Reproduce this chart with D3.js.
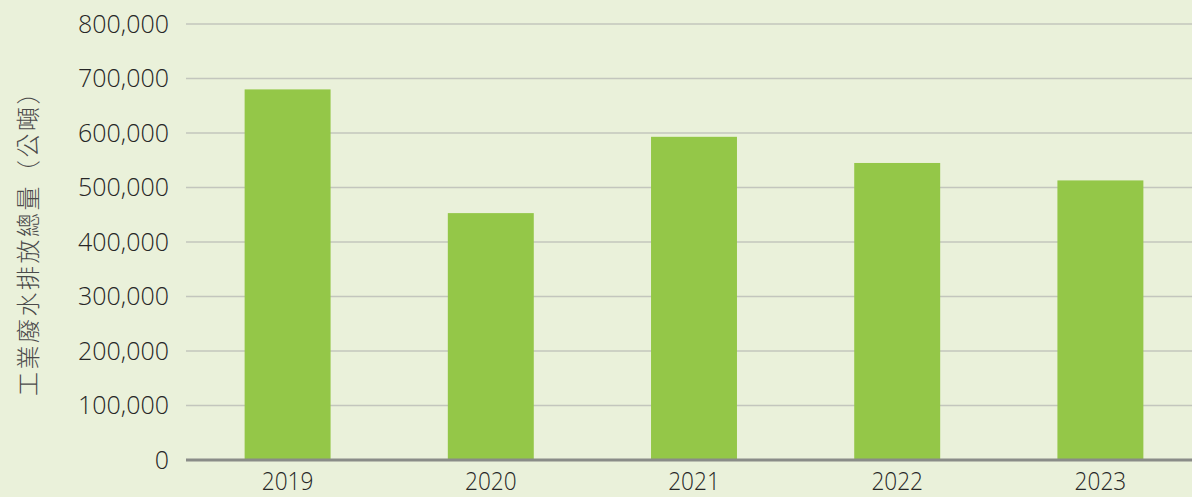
<!DOCTYPE html>
<html>
<head>
<meta charset="utf-8">
<script src="https://cdn.jsdelivr.net/npm/d3@7"></script>
<style>
  body { margin: 0; background: #eaf1da; }
  svg { display: block; }
</style>
</head>
<body>
<div id="viz"></div>
<script>
// Chart data
const years = ["2019", "2020", "2021", "2022", "2023"];
const wastewater = [680000, 453000, 593000, 545000, 513000];
const yTicks = [0, 100000, 200000, 300000, 400000, 500000, 600000, 700000, 800000];
const yTitle = "工業廢水排放總量（公噸）";

const width = 1192;
const height = 497;
const margin = { top: 24, right: 0, bottom: 37, left: 186 };

const svg = d3.select("#viz")
    .append("svg")
    .attr("width", width)
    .attr("height", height)
    .style("background", "#eaf1da");

const x = d3.scaleBand()
    .domain(years)
    .range([margin.left, 1202])
    .paddingInner(0.577)
    .paddingOuter(0.2885);

const y = d3.scaleLinear()
    .domain([0, 800000])
    .range([height - margin.bottom, margin.top]);

// Gridlines
svg.append("g")
    .selectAll("line")
    .data(yTicks.filter(d => d > 0))
    .enter().append("line")
    .attr("x1", margin.left)
    .attr("x2", width)
    .attr("y1", d => y(d))
    .attr("y2", d => y(d))
    .attr("stroke", "#c3c6bd")
    .attr("stroke-width", 1.6);

// Bars
svg.append("g")
    .selectAll("rect")
    .data(years.map((yr, i) => ({ yr, v: wastewater[i] })))
    .enter().append("rect")
    .attr("x", d => x(d.yr))
    .attr("width", x.bandwidth())
    .attr("y", d => y(d.v))
    .attr("height", d => y(0) - y(d.v))
    .attr("fill", "#94c748");

// Baseline
svg.append("line")
    .attr("x1", margin.left)
    .attr("x2", width)
    .attr("y1", y(0))
    .attr("y2", y(0))
    .attr("stroke", "#8a8c88")
    .attr("stroke-width", 3);

// Y axis labels
const yAxis = svg.append("g")
    .attr("transform", `translate(${margin.left - 17},0)`)
    .call(d3.axisLeft(y).tickValues(yTicks).tickSize(0).tickFormat(d3.format(",")));
yAxis.select(".domain").remove();
yAxis.selectAll("text")
    .attr("x", 0)
    .attr("fill", "#262626")
    .style("font-family", "'Open Sans', 'DejaVu Sans', sans-serif")
    .style("font-size", "25px")
    .style("font-weight", "300");

// X axis labels (slightly condensed)
const xAxis = svg.append("g")
    .attr("transform", `translate(0,${y(0)})`)
    .call(d3.axisBottom(x).tickSize(0));
xAxis.select(".domain").remove();
xAxis.selectAll("text")
    .attr("y", 12)
    .attr("transform", "scale(0.87,1)")
    .attr("fill", "#262626")
    .style("font-family", "'Open Sans', sans-serif")
    .style("font-size", "26px")
    .style("font-weight", "300");

// Y axis title
svg.append("text")
    .attr("transform", `translate(37,${(margin.top + y(0)) / 2 - 5}) rotate(-90)`)
    .attr("text-anchor", "middle")
    .attr("fill", "#4a4a4a")
    .style("font-family", "'Noto Sans CJK TC', sans-serif")
    .style("font-size", "24px")
    .style("font-weight", "300")
    .style("letter-spacing", "2.5px")
    .text(yTitle);
</script>
</body>
</html>
